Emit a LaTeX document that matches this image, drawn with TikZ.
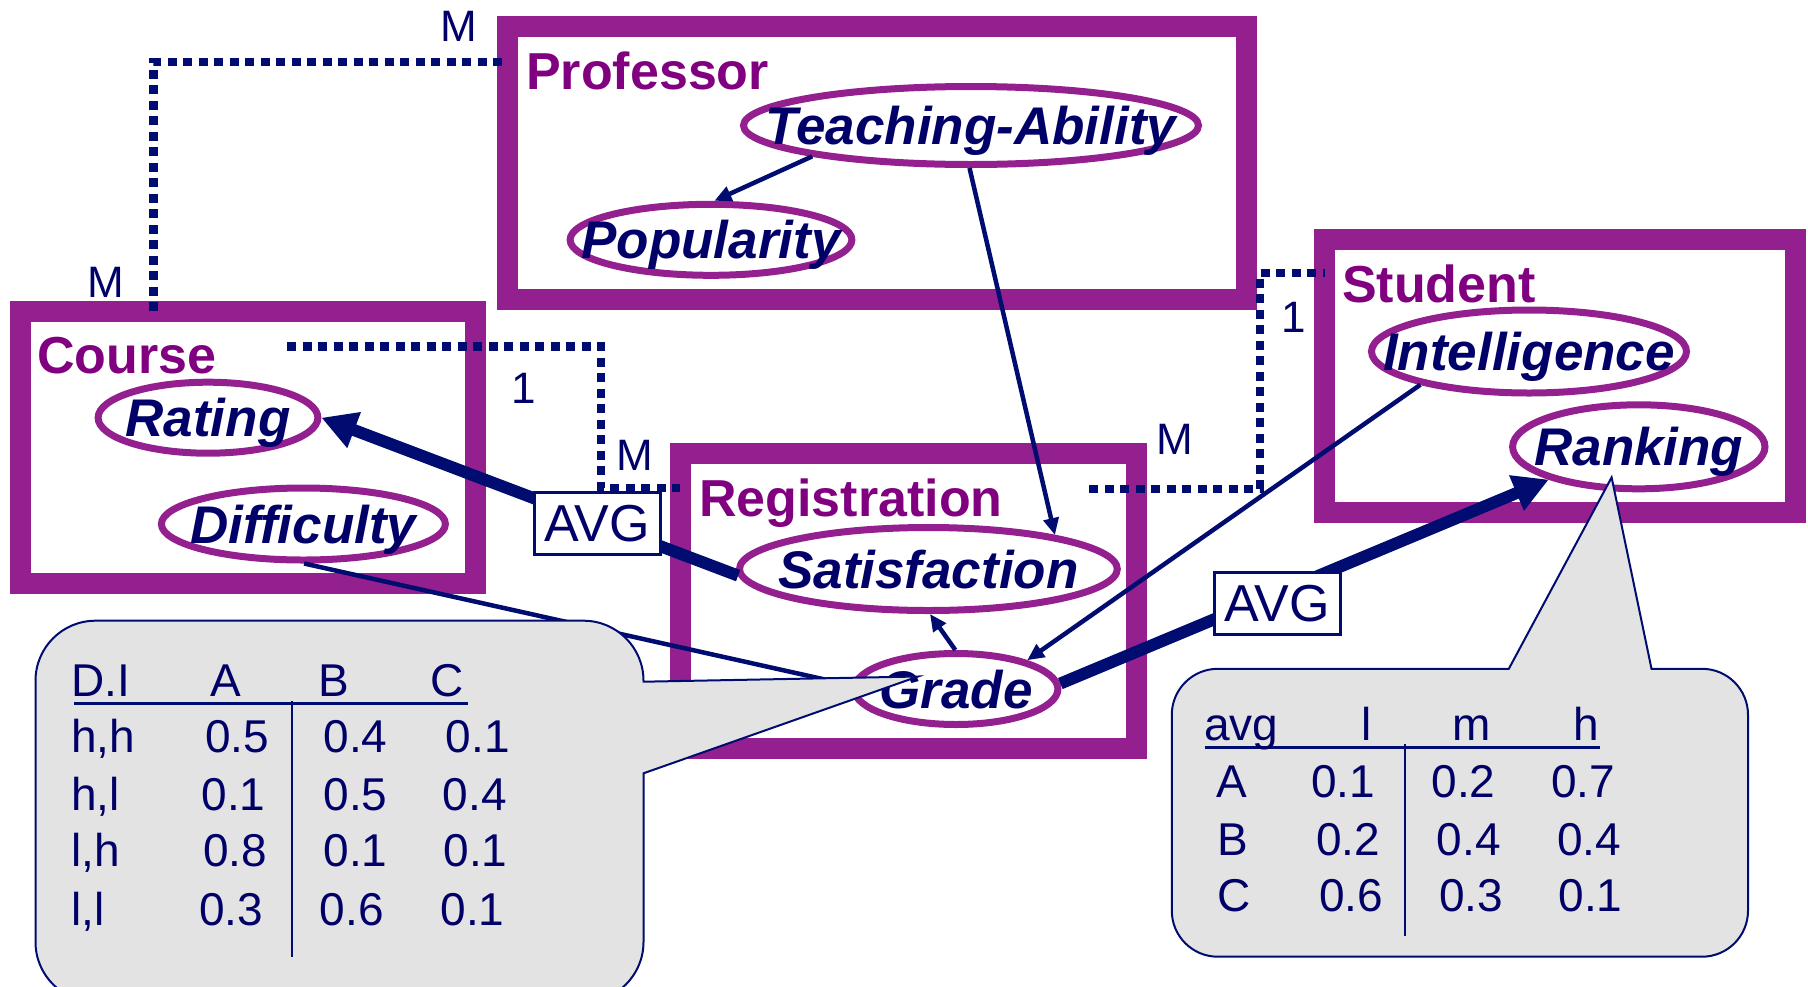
\documentclass[tikz,border=0pt]{standalone}
\usepackage{fontspec}
\setmainfont{Liberation Sans}
\usetikzlibrary{shapes.geometric,arrows.meta}

\definecolor{boxpurple}{RGB}{147,32,142}
\definecolor{titlepurple}{RGB}{128,0,128}
\definecolor{navytext}{RGB}{0,0,104}
\definecolor{navyline}{RGB}{0,12,112}
\definecolor{calloutgray}{RGB}{227,227,227}

\tikzset{
  ebox/.style={rectangle, draw=boxpurple, line width=21pt, outer sep=0pt, inner sep=0pt},
  attr/.style={ellipse, draw=boxpurple, line width=7pt, inner sep=0pt},
  attrtext/.style={text=navytext, font=\fontsize{53}{60}\selectfont\bfseries\itshape,
    inner sep=0pt, text height=38pt, text depth=0pt},
  boxtitle/.style={text=titlepurple, font=\fontsize{52}{60}\selectfont\bfseries,
    anchor=base west, inner sep=0pt},
  card/.style={text=navytext, font=\fontsize{44}{50}\selectfont, anchor=base, inner sep=0pt},
  rel/.style={draw=navyline, line width=8.5pt, dash pattern=on 9pt off 6.5pt},
  dep/.style={draw=navyline, line width=4.5pt, -{Triangle[length=17pt,width=15pt]}},
  plainlink/.style={draw=navyline, line width=4.5pt},
  agg/.style={draw=navyline, line width=12pt, -{Triangle[length=35pt,width=36pt]}},
  avgbox/.style={rectangle, draw=navyline, fill=white, line width=3pt, text=navytext,
    font=\fontsize{52}{60}\selectfont, minimum width=126pt, minimum height=62pt,
    inner sep=0pt, text height=37pt, text depth=0pt},
  cell/.style={text=navytext, font=\fontsize{46}{52}\selectfont, anchor=base west, inner sep=0pt},
  callout/.style={draw=navyline, line width=2pt, fill=calloutgray},
  rule/.style={draw=navyline, line width=3pt},
  vrule/.style={draw=navyline, line width=2pt},
}

\begin{document}
\begin{tikzpicture}[x=1pt, y=-1pt]
\useasboundingbox (0,0) rectangle (1808,986);
\clip (0,0) rectangle (1808,986);

% entity boxes
\node[ebox, minimum width=738.5pt, minimum height=272.3pt] (prof) at (876.75,162.85) {};
\node[ebox, minimum width=455.7pt, minimum height=272pt] (course) at (247.85,447) {};
\node[ebox, minimum width=456pt, minimum height=295.5pt] (reg) at (908,600.75) {};
\node[ebox, minimum width=471.1pt, minimum height=272.2pt] (stud) at (1560.25,375.9) {};

% attributes
\node[attr, minimum width=455pt, minimum height=78pt] (ta) at (971,125.5) {};
\node[attr, minimum width=281.8pt, minimum height=71pt] (pop) at (711,239.8) {};
\node[attr, minimum width=219.8pt, minimum height=71pt] (rat) at (208,417.7) {};
\node[attr, minimum width=284pt, minimum height=72pt] (diff) at (303.4,524) {};
\node[attr, minimum width=377.8pt, minimum height=83pt] (sat) at (928.4,569) {};
\node[attr, minimum width=203.8pt, minimum height=71pt] (grade) at (956,689) {};
\node[attr, minimum width=315pt, minimum height=83pt] (intel) at (1529,351.5) {};
\node[attr, minimum width=252.4pt, minimum height=84pt] (rank) at (1638.8,446.8) {};

% relationship links
\coordinate (k1) at (153.3,62);
\coordinate (k2) at (287,346.4);
\coordinate (k3) at (601,488);
\coordinate (k4) at (1089.3,489);
\coordinate (k5) at (1260,272.8);
\draw[rel] (k1 |- course.north) |- (prof.west |- k1);
\draw[rel] (k2) -| (k3) -- (reg.west |- k3);
\draw[rel] (k4) -| (k5) -- (stud.west |- k5);

% dependencies
\draw[dep] (ta.191) -- (pop.85);
\draw[dep] (ta.268) -- (sat.15);
\draw[dep] (intel.197) -- (grade.22);
\draw[dep] (grade.91) -- (sat.272);
\draw[plainlink] (diff.271) -- (grade.178);
\draw[agg] (sat.182) -- (rat.east);
\draw[agg] (grade.3) -- (rank.200);

\node[avgbox] (avg1) at (597,523.3) {AVG};
\node[avgbox] (avg2) at (1277,603) {AVG};

% attribute names
\node[attrtext] at (ta) {Teaching-Ability};
\node[attrtext] at (pop) {Popularity};
\node[attrtext] at (rat) {Rating};
\node[attrtext] at (diff) {Difficulty};
\node[attrtext] at (sat) {Satisfaction};
\node[attrtext] at (grade) {Grade};
\node[attrtext] at (intel) {Intelligence};
\node[attrtext] at (rank) {Ranking};

% box titles
\node[boxtitle] (tprof) at (526,89) {Professor};
\node[boxtitle] (tcourse) at (37,373.7) {Course};
\node[boxtitle] (treg) at (699,516.7) {Registration};
\node[boxtitle] (tstud) at (1342,302.5) {Student};

% cardinalities
\node[card] (m1) at (459,41.5) {M};
\node[card] (m2) at (106,297) {M};
\node[card] (o1) at (524,403) {1};
\node[card] (m3) at (635,470.5) {M};
\node[card] (o2) at (1293.5,332) {1};
\node[card] (m4) at (1175,454.7) {M};

% CPD callouts
\path[callout] (35.5,680.7) arc[start angle=180,end angle=270,radius=60]
  -- (583.5,620.7) arc[start angle=270,end angle=360,radius=60]
  -- (643.5,681.7) -- (918,676.5) -- (643.5,773.3)
  -- (643.5,942) arc[start angle=0,end angle=90,radius=60]
  -- (95.5,1002) arc[start angle=90,end angle=180,radius=60] -- cycle;
\path[callout] (1171.8,714.8) arc[start angle=180,end angle=270,radius=46]
  -- (1508.8,668.8) -- (1611.6,477.4) -- (1651.5,668.8)
  -- (1702,668.8) arc[start angle=270,end angle=360,radius=46]
  -- (1748,910.7) arc[start angle=0,end angle=90,radius=46]
  -- (1217.8,956.7) arc[start angle=90,end angle=180,radius=46] -- cycle;

% grade table
\draw[rule] (74,703.3) -- (468,703.3);
\draw[vrule] (292.2,701) -- (292.2,956.7);
\node[cell] at (71,696.7) {D.I};
\node[cell] at (210,696.7) {A};
\node[cell] at (318.5,696.7) {B};
\node[cell] at (430,696.7) {C};
\node[cell] at (71,752.7) {h,h};
\node[cell] at (205,752.7) {0.5};
\node[cell] at (323.4,752.7) {0.4};
\node[cell] at (445.5,752.7) {0.1};
\node[cell] at (71,810.7) {h,l};
\node[cell] at (201.4,810.7) {0.1};
\node[cell] at (323.4,810.7) {0.5};
\node[cell] at (442.5,810.7) {0.4};
\node[cell] at (71,866.7) {l,h};
\node[cell] at (202.9,866.7) {0.8};
\node[cell] at (323.4,866.7) {0.1};
\node[cell] at (443.3,866.7) {0.1};
\node[cell] at (71,925) {l,l};
\node[cell] at (199,925) {0.3};
\node[cell] at (319.7,925) {0.6};
\node[cell] at (440.3,925) {0.1};

% ranking table
\draw[rule] (1204.6,747.4) -- (1599.9,747.4);
\draw[vrule] (1404.7,744) -- (1404.7,936.2);
\node[cell] at (1203.8,740.6) {avg};
\node[cell] at (1361,740.6) {l};
\node[cell] at (1452,740.6) {m};
\node[cell] at (1573,740.6) {h};
\node[cell] at (1216.3,797) {A};
\node[cell] at (1310.8,797) {0.1};
\node[cell] at (1431.3,797) {0.2};
\node[cell] at (1550.9,797) {0.7};
\node[cell] at (1217.5,855) {B};
\node[cell] at (1315.9,855) {0.2};
\node[cell] at (1436.7,855) {0.4};
\node[cell] at (1557.1,855) {0.4};
\node[cell] at (1217.2,911.5) {C};
\node[cell] at (1319.2,911.5) {0.6};
\node[cell] at (1438.8,911.5) {0.3};
\node[cell] at (1558.4,911.5) {0.1};
\end{tikzpicture}
\end{document}
